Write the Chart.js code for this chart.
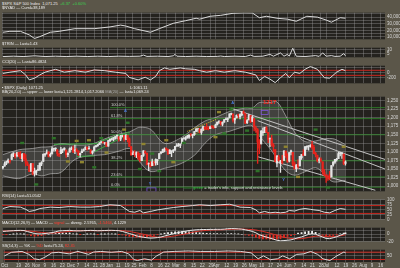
<!DOCTYPE html>
<html><head><meta charset="utf-8">
<script src="https://cdn.jsdelivr.net/npm/chart.js@4.4.1/dist/chart.umd.min.js"></script>
<style>
html,body{margin:0;padding:0;}
body{width:400px;height:268px;overflow:hidden;background:#5b5649;position:relative;font-family:"Liberation Sans",Arial,sans-serif;}
canvas{position:absolute;left:0;}
.t{position:absolute;left:2px;font-size:4px;line-height:4px;color:#ececec;white-space:nowrap;z-index:5;}
.r{color:#ff3b30}.g{color:#3ad14f}.m{color:#a8a8a8}
</style></head><body>
<div class="t" style="top:2px;">$SPX S&amp;P 500 Index &nbsp;1,071.25 &nbsp;<span class="g">+6.37 &nbsp;+0.60%</span></div>
<div class="t" style="top:6px;">$NYAD — Cuml=38,189</div>
<div class="t" style="top:41.5px;">$TRIN — Last=1.43</div>
<div class="t" style="top:59.5px;">CCI(20) — Last=86.4824</div>
<div class="t" style="top:85.5px;">▪ $SPX (Daily) 1071.25<span style="position:absolute;left:128px">L:1061.11</span></div>
<div class="t" style="top:90px;">BB(20,2.0) — upper — lower last=1,121.2814,1,017.2066 <span class="m">MA(20)</span> — last=1,069.24</div>
<div class="t" style="top:193.5px;">RSI(14) Last=51.0542</div>
<div class="t" style="top:221px;">MACD(12,26,9) — MACD — <span class="r">signal</span> — diverg. 2.5765, <span class="r">-1.5464</span>, 4.1229</div>
<div class="t" style="top:243.5px;">SS(14,3) — %K — <span class="r">%D</span> last=75.24, <span class="r">82.45</span></div>

<canvas id="c1" width="400" height="36" style="top:8px"></canvas>
<canvas id="c2" width="400" height="19" style="top:43px"></canvas>
<canvas id="c3" width="400" height="27" style="top:61px"></canvas>
<canvas id="cm" width="400" height="104" style="top:92px"></canvas>
<canvas id="c4" width="400" height="29" style="top:195px"></canvas>
<canvas id="c5" width="400" height="23" style="top:223px"></canvas>
<canvas id="c6" width="400" height="23" style="top:245px"></canvas>
<script>
// ---------------- calendar / categories ----------------
const firstDay = "2009-10-07";
const dayCount = 218;
const holidays = ["2009-11-26","2009-12-25","2010-01-01","2010-01-18","2010-02-15","2010-04-02","2010-05-31","2010-07-05"];
const tickDates = ["2009-10-07","2009-10-19","2009-10-26","2009-11-02","2009-11-09","2009-11-16","2009-11-23","2009-12-01","2009-12-07","2009-12-14","2009-12-21","2009-12-28","2010-01-04","2010-01-11","2010-01-19","2010-01-25","2010-02-01","2010-02-08","2010-02-16","2010-02-22","2010-03-01","2010-03-08","2010-03-15","2010-03-22","2010-03-29","2010-04-01","2010-04-12","2010-04-19","2010-04-26","2010-05-03","2010-05-10","2010-05-17","2010-05-24","2010-06-01","2010-06-07","2010-06-14","2010-06-21","2010-06-28","2010-07-01","2010-07-12","2010-07-19","2010-07-26","2010-08-02","2010-08-09","2010-08-16"];
const tickLabels = ["Oct","19","26","Nov","9","16","23","Dec","7","14","21","28","Jan","11","19","25","Feb","8","16","22","Mar","8","15","22","29","Apr","12","19","26","May","10","17","24","Jun","7","14","21","28","Jul","12","19","26","Aug","9","16"];

// ---------------- $SPX daily OHLC (Oct 7 2009 - Jul 19 2010) ----------------
const open = [
1054,1058,1066,1071,1074,1078,1090,1094,1088,1098,1091,1080,1095,1080,1067,1061,1043,1066,
1037,1040,1047,1047,1065,1072,1091,1094,1099,1088,1094,1108,1109,1106,1094,1095,1106,1106,1105,1092,
1099,1109,1110,1103,1105,1103,1092,1098,1104,1107,1114,1109,1106,1097,1103,1115,1118,1121,1127,1128,1125,1127,
1117,1133,1136,1136,1141,1146,1144,1137,1146,1148,1136,1148,1138,1115,1092,1096,1092,1097,1087,
1074,1090,1101,1096,1064,1065,1060,1070,1068,1075,1080,1096,1099,1105,1110,1107,1095,1101,1103,
1105,1117,1119,1119,1125,1139,1137,1141,1143,1152,1148,1150,1160,1166,1166,1157,1166,1172,1170,1168,1168,1174,1172,
1171,1179,1186,1189,1181,1187,1194,1195,1199,1210,1210,1193,1199,1207,1203,1208,1217,1210,1185,1193,1206,
1189,1197,1170,1164,1128,1123,1156,1156,1170,1157,1137,1139,1120,1107,1067,1085,1068,1076,1075,1102,
1088,1073,1099,1099,1066,1051,1063,1059,1083,1095,1090,1114,1116,1116,1122,1113,1096,1090,1075,1077,1071,1041,
1031,1028,1029,1028,1062,1070,1077,1080,1095,1094,1093,1066];
const high = [
1058,1071,1073,1080,1075,1094,1097,1094,1099,1099,1101,1096,1095,1092,1072,1063,1066,1066,
1053,1046,1061,1067,1072,1094,1096,1106,1101,1097,1114,1111,1112,1106,1094,1113,1108,1112,1105,1098,
1112,1115,1117,1120,1110,1103,1097,1108,1109,1115,1114,1117,1106,1103,1117,1119,1121,1127,1130,1130,1127,1127,
1134,1137,1140,1142,1145,1150,1144,1148,1149,1148,1150,1148,1141,1116,1102,1104,1100,1100,1096,
1090,1104,1103,1097,1068,1072,1079,1073,1080,1077,1095,1100,1108,1112,1112,1108,1107,1103,1107,
1116,1124,1125,1123,1139,1141,1145,1148,1150,1153,1151,1160,1169,1167,1169,1167,1175,1174,1181,1174,1175,1177,1174,
1181,1187,1191,1189,1188,1194,1199,1199,1211,1213,1211,1198,1208,1210,1211,1218,1220,1212,1195,1210,1207,
1205,1197,1175,1168,1136,1163,1170,1172,1174,1157,1141,1149,1124,1107,1090,1090,1075,1090,1103,1102,
1094,1098,1105,1099,1071,1063,1077,1087,1092,1106,1116,1118,1118,1121,1131,1119,1099,1091,1083,1083,1071,1049,
1034,1033,1043,1060,1072,1078,1081,1099,1099,1098,1094,1074];
const low = [
1050,1058,1063,1068,1067,1078,1086,1082,1085,1086,1080,1072,1075,1059,1060,1042,1043,1033,
1029,1033,1045,1047,1060,1072,1087,1094,1085,1085,1094,1102,1103,1088,1086,1095,1098,1105,1084,1086,
1099,1106,1098,1095,1100,1089,1085,1098,1102,1107,1105,1108,1095,1093,1103,1114,1116,1121,1126,1126,1122,1115,
1117,1130,1134,1132,1137,1138,1131,1133,1144,1131,1136,1129,1115,1090,1092,1086,1083,1078,1071,
1074,1087,1094,1062,1045,1056,1060,1060,1061,1063,1080,1094,1098,1100,1104,1092,1095,1086,1098,
1105,1116,1116,1112,1125,1137,1134,1140,1139,1146,1141,1148,1160,1160,1155,1151,1162,1165,1165,1164,1168,1169,1169,
1171,1179,1182,1178,1176,1187,1194,1188,1199,1208,1187,1183,1199,1198,1196,1205,1211,1182,1182,1193,1186,
1189,1161,1157,1066,1095,1123,1148,1156,1156,1127,1115,1117,1100,1071,1056,1073,1040,1065,1075,1084,
1069,1071,1091,1060,1050,1042,1052,1059,1078,1089,1090,1107,1105,1114,1108,1095,1085,1071,1068,1071,1035,1030,
1011,1017,1019,1028,1058,1066,1073,1080,1088,1081,1063,1061];
const close = [
1058,1065,1071,1076,1073,1092,1097,1088,1098,1091,1081,1093,1080,1067,1063,1043,1066,1036,
1043,1045,1047,1067,1069,1093,1093,1099,1087,1093,1109,1110,1110,1095,1091,1106,1106,1111,1091,1096,
1109,1109,1100,1106,1103,1092,1096,1102,1106,1114,1108,1109,1096,1102,1114,1118,1121,1126,1128,1126,1126,1115,
1133,1137,1137,1142,1145,1147,1136,1146,1148,1136,1150,1138,1116,1092,1097,1092,1098,1085,1074,
1089,1103,1097,1063,1066,1057,1071,1068,1078,1076,1095,1100,1107,1109,1108,1095,1105,1103,1104,
1116,1118,1119,1123,1139,1139,1140,1146,1150,1150,1151,1159,1166,1166,1160,1166,1174,1168,1166,1167,1173,1173,1169,
1178,1187,1189,1182,1186,1194,1196,1197,1211,1212,1192,1198,1207,1206,1209,1217,1212,1184,1191,1207,1187,
1202,1174,1166,1128,1111,1160,1156,1172,1157,1136,1137,1121,1115,1072,1088,1074,1074,1068,1103,1089,
1071,1098,1103,1065,1050,1062,1056,1087,1092,1090,1115,1115,1116,1118,1113,1095,1092,1074,1077,1075,1041,1031,
1027,1023,1028,1060,1070,1078,1079,1095,1095,1096,1065,1071];

// Bollinger bands (day index, upper, lower)
const bbDay   = [0,9,17,22,27,33,41,50,58,66,72,75,78,84,92,101,109,115,121,129,138,142,146,152,156,161,166,172,178,183,186,189,195];
const bbUpper = [1092,1106,1110,1114,1115,1124,1120,1122,1138,1152,1158,1166,1172,1166,1125,1140,1170,1190,1200,1218,1228,1228,1244,1244,1246,1205,1158,1130,1132,1138,1139,1137,1121];
const bbLower = [1030,1022,1036,1030,1036,1040,1078,1089,1092,1102,1110,1095,1070,1043,1052,1065,1090,1125,1150,1160,1175,1176,1146,1110,1080,1045,1032,1042,1054,1035,1018,1012,1017];

// support / resistance levels and trendlines (day, price, day, price)
const srLevels = [1229,1197,1150,1074,1027,997];
const srLabels = ["100.0%","61.8%","50.0%","38.2%","23.6%","0.0%"];
const srStartDay = 61;
const grayTrend   = [[130,1227,217.5,1078],[145,1191,217.5,1050],[145,1086,212,988]];
const greenTrend  = [[29,1122,54,1124],[42,1087,52,1088],[52,1100,72,1153],[54,1128,72,1158]];
const yellowTrend = [[105,1160,122,1196],[105,1143,122,1180]];
const yellowBoxes = [[42,1132],[49,1134],[37,1072],[45,1070],[59,1098],[69,1165],[80,1123],[93,1134],[97,1070],[123,1216],[121,1143],[161,1115],[194,1115],[168,1027]];
const greenBoxes  = [[11,1126],[29,1140],[52,1055],[56,1140],[71,1185],[85,1095],[78,1050],[89,1044],[103,1126],[19,1005],[130,1224],[126,1154],[139,1162],[178,1165],[145,1044],[185,996]];

// upper panels
const adDay = [0,4,10,15,18,21,27,32,41,52,61,67,70,75,84,89,97,104,110,112,118,124,131,137,142,146,150,156,162,167,173,179,184,187,192,195];
const adVal = [17100,18500,18500,13100,7700,10400,17100,18500,22500,22500,25200,27900,26500,22500,17100,22500,30600,34600,38300,36900,41300,42700,45800,46500,46300,39100,41300,38300,36900,33700,41300,40000,35600,32300,39100,38300];
const trinDay = [0,6,12,18,24,30,36,42,48,54,60,66,72,78,80,82,88,94,97,98,99,104,110,116,122,124,126,132,138,141,143,148,152,154,158,160,162,163,165,167,172,178,180,182,184,187,189,192,194,195];
const trinVal = [1,1.5,1,2,1,1.5,1,1.5,1,1.5,1,1.5,1.2,1.5,3,1.2,1.5,1,2,4,1.5,1,1.5,1,1.2,1.7,1,1.5,1,3,1.2,1.5,4,1.5,6,1.5,4,1.5,12.3,1.5,1,2.3,1.2,6,1.5,2.3,1.2,1.5,5,2];
const cciDay = [0,4,10,13,15,18,21,24,30,35,41,47,52,58,64,70,72,77,81,84,87,89,92,95,101,104,109,112,116,121,126,132,138,144,146,149,152,155,158,161,163,166,169,172,175,179,183,186,190,193,195];
const cciVal = [-25,25,85,-85,-280,-215,-85,25,140,25,85,25,115,85,25,-25,-185,-280,-175,-280,-140,85,195,140,195,160,140,85,25,85,25,85,25,-85,-305,-140,-250,-390,-195,-25,-195,25,-25,140,250,140,-195,-215,25,140,85];
const cciLevels = [100,-100];

// lower panels
const rsiDay = [0,4,10,13,15,18,21,27,32,38,44,50,55,61,67,72,75,78,80,84,88,93,97,102,108,112,118,124,129,132,135,141,144,146,149,152,155,158,161,163,166,169,172,175,177,180,183,186,189,192,195];
const rsiVal = [55,65,62,51,40,45,55,62,60,65,62,62,65,74,70,40,36,45,33,40,48,55,60,65,70,74,70,74,77,70,62,60,48,33,40,33,36,33,36,45,42,51,55,51,48,45,36,33,45,55,51];
const rsiLevels = [70,30];
const macdDay = [0,2,4,6,8,10,12,14,16,18,20,22,24,26,28,30,32,34,36,38,40,42,44,46,48,50,52,54,56,58,60,62,64,66,68,70,72,74,76,78,80,82,84,86,88,90,92,94,96,98,100,102,104,106,108,110,112,114,116,118,120,122,124,126,128,130,132,134,136,138,140,142,144,146,148,150,152,154,156,158,160,162,164,166,168,170,172,174,176,178,180,182,184,186,188,190,192,194,195];
const macdVal = [8,8.7,9.5,10,10.7,11,10.5,7.5,5,2, 1,1,2,3.2,4.5,7,9.5,10,10.5,11, 10,9.7,9.5,10,10.5,11,10.5,9.8,10.2,10.5, 11,11,10.5,10,8,5,2,-1,-4.5,-6.7, -8.5,-10,-11,-10.5,-9.5,-8,-5,-2.5,0,2.5, 5,7,8.5,10.5,11.5,12.5,13,13.3,13.5,13.7, 13.8,14,14,14.5,15.5,16,15.8,15.2,14.5,12.5, 10.5,8,4,-1.5,-5,-8,-11,-14,-17,-18.7, -18,-17,-16,-13,-10,-7.5,-4,-0.5,1.5,0, -4,-8,-12,-12.5,-10,-7,-3,1, 2.6];
const signalVal = [9,9.3,9.6,9.8,9.9,10,10,9.5,8.8,7.5, 6,5,4,3.2,3.2,3.8,5,6,7,8, 9,9.5,10,10,10,10,10,10,10,10, 10.2,10.3,10.4,10.5,10,9,8,6,4,2, 0,-2.5,-5,-7,-8.2,-8.5,-8,-7.3,-6,-4.5, -2.5,-1,1,3.5,5.5,7.5,9,10,10.8,11.5, 12,12.3,12.5,13,13.5,14,14.3,14.5,14.5,14.2, 13.8,13,12,10,8,5.5,3,0,-3,-6, -8.5,-10.5,-12,-12.8,-13,-12.5,-11,-9,-7,-5.5, -5,-5.5,-6.3,-7,-6.8,-6,-4.5,-2.5, -1.5];
const histVal = [-1,-0.6,0,0.2,0.8,1,0.5,-2,-3.8,-5.5, -5,-4,-2,0,1.3,3.2,4.5,4,3.5,3, 1,0.2,-0.5,0,0.5,1,0.5,-0.2,0.2,0.5, 0.8,0.7,0.1,-0.5,-2,-4,-6,-7,-8.5,-8.7, -8.5,-7.5,-6,-3.5,-1.3,0.5,3,4.8,6,7, 7.5,8,7.5,7,6,5,4,3.3,2.7,2.2, 1.8,1.7,1.5,1.5,2,2,1.5,0.7,0,-1.7, -3.3,-5,-8,-11.5,-13,-13.5,-14,-14,-14,-12.7, -9.5,-6.5,-4,-0.2,3,5,7,8.5,8.5,5.5, 1,-2.5,-5.7,-5.5,-3.2,-1,1.5,3.5, 4.1];
const stochDay = [0,4,10,14,17,20,23,27,31,37,42,48,51,55,61,67,71,74,76,80,84,87,91,97,105,112,120,128,135,141,145,148,152,156,159,163,167,171,175,179,182,186,190,194,195];
const stochVal = [50,79,86,62,26,19,38,74,79,66,86,62,81,86,79,86,66,19,12,26,15,50,81,86,90,86,86,90,86,74,26,50,19,26,50,26,62,66,86,62,26,12,50,81,75];
const stochLevels = [80,20];

// tick values for the right-hand axes
const adTicks = [10000,15000,20000,25000,30000,35000,40000,45000], adLabeled = [10000,20000,30000,40000];
const trinTicks = [5,10];
const cciTicks = [-200,0,200], cciLabeled = [-200,0];
const priceTicks = [1000,1025,1050,1075,1100,1125,1150,1175,1200,1225,1250];
const rsiTicks = [0,25,50,75,100];
const macdTicks = [-20,-10,0,10], macdLabeled = [-20,0];
const stochTicks = [20,50,80], stochLabeled = [50];

// ---------------- build ----------------
const days = [];
{ const d = new Date(firstDay + "T00:00:00Z");
  while (days.length < dayCount) {
    const s = d.toISOString().slice(0,10), w = d.getUTCDay();
    if (w !== 0 && w !== 6 && !holidays.includes(s)) days.push(s);
    d.setUTCDate(d.getUTCDate() + 1);
  } }
const tickIdx = tickDates.map(s => days.indexOf(s));

const GRID = 'rgba(160,160,160,0.36)', PANEL = '#24221e', TXT = '#d6d6d6', RED = '#e8231c', WHITE = '#e4e4e4', LINE = '#dadada', LVL = '#c8261e';
const FONT = '"Liberation Sans", Arial, sans-serif';
Chart.defaults.font.family = FONT;
Chart.defaults.font.size = 4.5;
Chart.defaults.color = TXT;
Chart.defaults.animation = false;
Chart.defaults.responsive = false;
Chart.defaults.plugins.legend.display = false;
Chart.defaults.plugins.tooltip.enabled = false;
Chart.register({ id: 'panelBg', beforeDraw(c) {
  const a = c.chartArea, ctx = c.ctx; ctx.save(); ctx.fillStyle = PANEL;
  ctx.fillRect(a.left, a.top, a.right - a.left, a.bottom - a.top); ctx.restore(); } });

const fmt = v => v.toLocaleString('en-US');
function xAxis(show) {
  return { type: 'linear', min: -0.5, max: dayCount - 0.5, offset: false,
    afterBuildTicks: a => { a.ticks = tickIdx.map(v => ({ value: v })); },
    ticks: { display: show, autoSkip: false, maxRotation: 0, minRotation: 0, padding: 1, color: TXT, callback: (v, i) => tickLabels[i] },
    grid: { color: GRID, drawTicks: false, offset: false }, border: { display: false },
    afterFit: a => { a.height = show ? 6 : 0; } };
}
function yAxis(min, max, vals, labeled) {
  return { type: 'linear', position: 'right', min, max,
    afterBuildTicks: a => { a.ticks = vals.map(v => ({ value: v })); },
    ticks: { autoSkip: false, padding: 2, color: TXT, callback: v => (labeled.includes(v) ? fmt(v) : '') },
    grid: { color: GRID, drawTicks: false }, border: { display: false },
    afterFit: a => { a.width = 15; } };
}
const pts = (xs, ys) => xs.map((x, i) => ({ x, y: ys[i] }));
function lineDs(data, color, extra) {
  return Object.assign({ type: 'line', data, borderColor: color, borderWidth: 1, pointRadius: 0, fill: false, tension: 0 }, extra || {});
}
const levelDs = (v, color, x0) => lineDs([{ x: x0, y: v }, { x: dayCount - 0.5, y: v }], color);
function make(id, datasets, y, showX, plugins) {
  return new Chart(document.getElementById(id), { type: 'line', data: { datasets },
    options: { layout: { padding: { left: 2, right: 0, top: 3, bottom: showX ? 0 : 3 } }, scales: { x: xAxis(showX), y } },
    plugins: plugins || [] });
}

// panel 1
make('c1', [lineDs(pts(adDay, adVal), LINE)], yAxis(6400, 46700, adTicks, adLabeled), false);
// panel 2
make('c2', [lineDs(pts(trinDay, trinVal), LINE)], yAxis(0, 13, trinTicks, trinTicks), false);
// panel 3
make('c3', [lineDs(pts(cciDay, cciVal), LINE), ...cciLevels.map(v => levelDs(v, LVL, -0.5))], yAxis(-417, 283, cciTicks, cciLabeled), false);

// main price panel
const candleCol = close.map((c, i) => (c < open[i] ? RED : WHITE));
const trendDs = (arr, color, extra) => arr.map(t => lineDs([{ x: t[0], y: t[1] }, { x: t[2], y: t[3] }], color, Object.assign({ order: 2 }, extra || {})));
const mainDs = [
  { type: 'bar', data: close.map((c, i) => ({ x: i, y: [open[i], c] })), backgroundColor: candleCol, barThickness: 1.5, grouped: false, minBarLength: 0.8, order: 0 },
  { type: 'bar', data: close.map((c, i) => ({ x: i, y: [low[i], high[i]] })), backgroundColor: candleCol, barThickness: 0.7, grouped: false, order: 1 },
  ...trendDs(grayTrend, '#c4c4c4'),
  ...trendDs(greenTrend, '#3aa83f'),
  ...trendDs(yellowTrend, '#cdbb2a', { borderDash: [1, 1] }),
  ...srLevels.map(v => Object.assign(levelDs(v, 'rgba(48,140,42,0.8)', srStartDay), { order: 3 })),
  lineDs(pts(bbDay, bbUpper), 'rgba(215,215,215,0.55)', { fill: '+1', backgroundColor: 'rgba(190,190,190,0.2)', tension: 0.35, order: 4 }),
  lineDs(pts(bbDay, bbLower), 'rgba(215,215,215,0.55)', { tension: 0.35, order: 4 })
];
const marks = { id: 'marks', afterDatasetsDraw(c) {
  const X = c.scales.x, Y = c.scales.y, ctx = c.ctx, a = c.chartArea;
  const px = d => X.getPixelForValue(d), py = p => Y.getPixelForValue(p);
  ctx.save(); ctx.beginPath(); ctx.rect(a.left, a.top, a.right - a.left, a.bottom - a.top); ctx.clip();
  const box = (d, p, f) => { ctx.fillStyle = f; ctx.fillRect(px(d) - 2, py(p) - 1.2, 4, 2.4); };
  yellowBoxes.forEach(([d, p]) => box(d, p, '#8f8430'));
  greenBoxes.forEach(([d, p]) => box(d, p, '#2f7229'));
  ctx.font = '4px ' + FONT; ctx.textBaseline = 'bottom'; ctx.fillStyle = '#cfcfcf';
  srLevels.forEach((v, i) => ctx.fillText(srLabels[i], px(srStartDay) + 1, py(v) - 0.5));
  ctx.textBaseline = 'middle';
  ctx.fillStyle = '#ff2a1f'; ctx.font = 'bold 6px ' + FONT; ctx.fillText('1217', px(148), py(1244));
  ctx.fillStyle = '#4a7ee0'; ctx.font = 'bold 4px ' + FONT;
  ctx.fillText('A', px(130), py(1242)); ctx.fillText('A', px(69), py(1220));
  ctx.fillText('Y', px(83), py(1008)); ctx.fillText('Y', px(159), py(1019));
  ctx.strokeStyle = '#7d55d6'; ctx.lineWidth = 0.8;
  ctx.strokeRect(px(147), py(1221), 7, 4); ctx.strokeRect(px(82), py(995), 9, 4);
  ctx.font = '4px ' + FONT; ctx.fillStyle = '#3cc24a';
  const gx = px(103), gy = py(994);
  ctx.fillText('—— green', gx, gy);
  const w = ctx.measureText('—— green').width;
  ctx.fillStyle = '#e0e0e0'; ctx.fillText(" = trader's info, support and resistance levels", gx + w, gy);
  ctx.restore(); } };
make('cm', mainDs, yAxis(985, 1261, priceTicks, priceTicks), false, [marks]);

// panel 4 RSI
make('c4', [lineDs(pts(rsiDay, rsiVal), LINE), ...rsiLevels.map(v => levelDs(v, LVL, -0.5))], yAxis(0, 100, rsiTicks, rsiTicks), false);
// panel 5 MACD
make('c5', [
  lineDs(pts(macdDay, macdVal), '#e8e8e8', { order: 0 }),
  lineDs(pts(macdDay, signalVal), '#d8322a', { order: 1 }),
  { type: 'bar', data: pts(macdDay, histVal), backgroundColor: histVal.map(v => (v >= 0 ? '#eeeeee' : '#e02a20')), barThickness: 1.2, grouped: false, order: 2 }
], yAxis(-20, 18.5, macdTicks, macdLabeled), false);
// panel 6 stochastics + date axis
make('c6', [lineDs(pts(stochDay, stochVal), LINE), ...stochLevels.map(v => levelDs(v, LVL, -0.5))], yAxis(0, 100, stochTicks, stochLabeled), true);
</script>
</body></html>
